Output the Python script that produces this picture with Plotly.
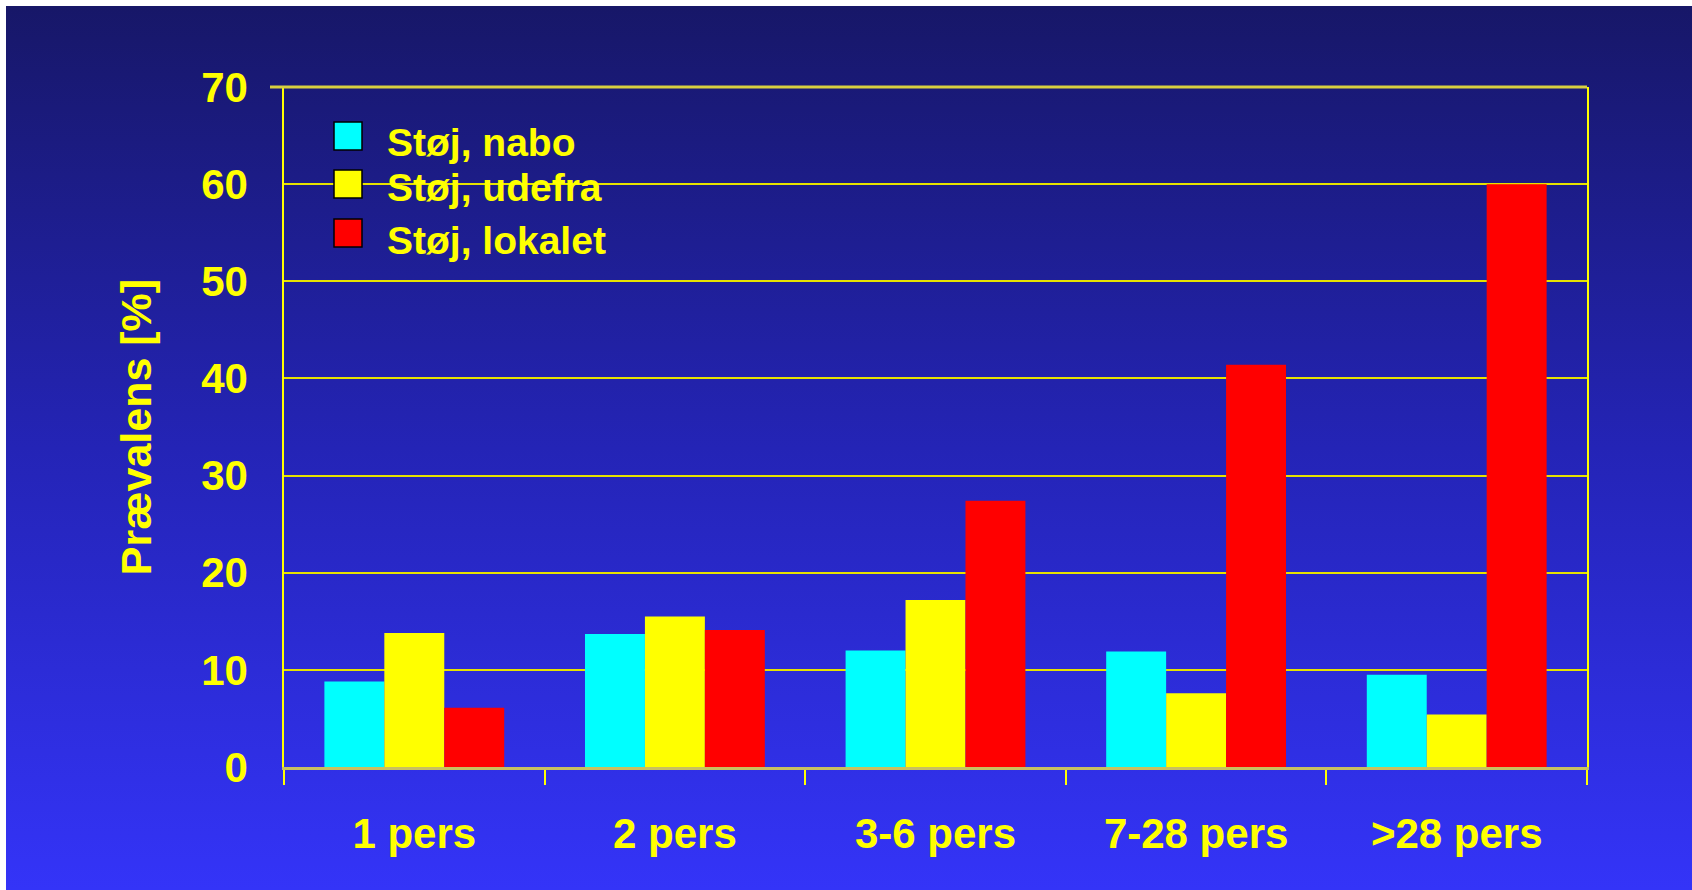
import base64
import plotly.graph_objects as go

# ---- data ----
categories = ["1 pers", "2 pers", "3-6 pers", "7-28 pers", ">28 pers"]
series_names = ["Støj, nabo", "Støj, udefra", "Støj, lokalet"]
stoj_nabo = [8.8, 13.7, 12.0, 11.9, 9.5]
stoj_udefra = [13.8, 15.5, 17.2, 7.6, 5.4]
stoj_lokalet = [6.1, 14.1, 27.4, 41.4, 60.0]
series_values = [stoj_nabo, stoj_udefra, stoj_lokalet]
y_ticks = [0, 10, 20, 30, 40, 50, 60, 70]
y_title = "Prævalens [%]"

colors = ["#00ffff", "#ffff00", "#ff0000"]
YELLOW = "#ffff00"
FONT = "Liberation Sans, Arial, sans-serif"

W, H = 1692, 890
L, R, T, B = 284, 105, 87, 123
pw, ph = W - L - R, H - T - B

def px_to_paper_x(px):
    return (px - L) / pw

def px_to_paper_y(py):
    return (H - B - py) / ph

fig = go.Figure()
for name, vals, col in zip(series_names, series_values, colors):
    fig.add_trace(go.Bar(
        x=categories, y=vals, name=name,
        marker=dict(color=col, line=dict(width=0)),
        showlegend=False,
    ))

# gradient background as an SVG image
svg = (
    '<svg xmlns="http://www.w3.org/2000/svg" width="100" height="100" preserveAspectRatio="none">'
    '<defs><linearGradient id="g" x1="0" y1="0" x2="0" y2="1">'
    '<stop offset="0" stop-color="#171768"/>'
    '<stop offset="0.5" stop-color="#2424b6"/>'
    '<stop offset="1" stop-color="#3434f8"/>'
    '</linearGradient></defs>'
    '<rect x="0" y="0" width="100" height="100" fill="url(#g)"/></svg>'
)
src = "data:image/svg+xml;base64," + base64.b64encode(svg.encode()).decode()
fig.add_layout_image(dict(
    source=src, xref="paper", yref="paper",
    x=px_to_paper_x(6), y=px_to_paper_y(6),
    sizex=(W - 6) / pw, sizey=(H - 6) / ph,
    xanchor="left", yanchor="top", sizing="stretch", layer="below",
))

# top border line incl. small left tick at 70
fig.add_shape(type="line", xref="paper", yref="paper",
              x0=px_to_paper_x(270), x1=1, y0=1, y1=1,
              line=dict(color="#d8d040", width=3))

# manual legend with large squares
sq_centers = [136, 184, 233]
txt_centers = [142, 187, 241]
for i, name in enumerate(series_names):
    c = sq_centers[i]
    fig.add_shape(type="rect", xref="paper", yref="paper",
                  x0=px_to_paper_x(334), x1=px_to_paper_x(362),
                  y0=px_to_paper_y(c - 14), y1=px_to_paper_y(c + 14),
                  fillcolor=colors[i], line=dict(color="#000000", width=1.5))
    fig.add_annotation(text="<b>" + name + "</b>", xref="paper", yref="paper",
                       x=px_to_paper_x(385), y=px_to_paper_y(txt_centers[i]),
                       xanchor="left", yanchor="middle", showarrow=False,
                       font=dict(family=FONT, size=39, color=YELLOW))

fig.update_layout(
    width=W, height=H, autosize=False,
    margin=dict(l=L, r=R, t=T, b=B, pad=0),
    paper_bgcolor="#ffffff",
    plot_bgcolor="rgba(0,0,0,0)",
    barmode="group", bargap=0.31, bargroupgap=0,
    font=dict(family=FONT, color=YELLOW),
)
fig.update_xaxes(
    type="category", showgrid=False,
    showline=True, linecolor="#c8c060", linewidth=3, mirror=False,
    ticks="outside", tickson="boundaries", ticklen=15, tickwidth=1.5, tickcolor=YELLOW,
    tickfont=dict(family=FONT, size=42, color=YELLOW, weight="bold"),
    ticklabelstandoff=28,
)
fig.update_yaxes(
    range=[0, 70], tickvals=y_ticks, ticktext=[str(v) for v in y_ticks],
    showgrid=True, gridcolor="#e6e200", gridwidth=1.5,
    zeroline=False,
    showline=True, linecolor=YELLOW, linewidth=1.5, mirror=True,
    ticks="", ticklabelstandoff=26,
    tickfont=dict(family=FONT, size=42, color=YELLOW, weight="bold"),
    title=dict(text=y_title, standoff=36,
               font=dict(family=FONT, size=43, color=YELLOW, weight="bold")),
)

fig.write_html("out.html")
